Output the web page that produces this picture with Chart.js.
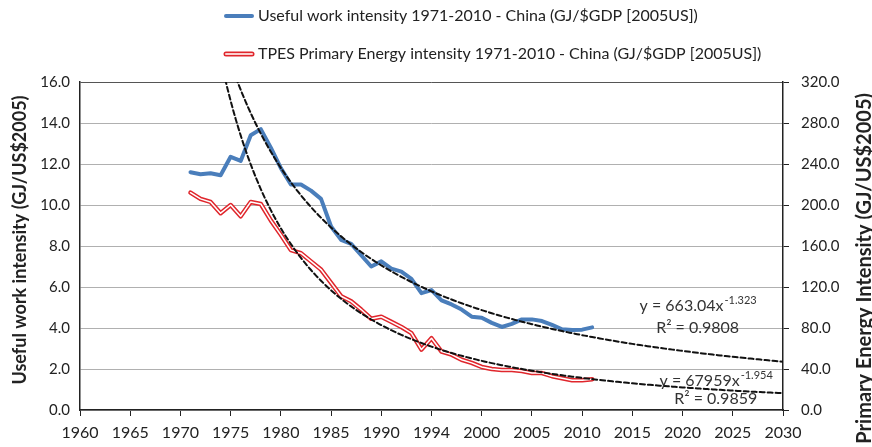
<!DOCTYPE html>
<html>
<head>
<meta charset="utf-8">
<script src="https://cdn.jsdelivr.net/npm/chart.js@4.4.1/dist/chart.umd.min.js"></script>
<style>
    html, body { margin: 0; padding: 0; background: #fff; }
</style>
</head>
<body>
<canvas id="myChart" width="872" height="447"></canvas>
<script>
// data
const years = [1971, 1972, 1973, 1974, 1975, 1976, 1977, 1978, 1979, 1980,
    1981, 1982, 1983, 1984, 1985, 1986, 1987, 1988, 1989, 1990,
    1991, 1992, 1993, 1994, 1995, 1996, 1997, 1998, 1999, 2000,
    2001, 2002, 2003, 2004, 2005, 2006, 2007, 2008, 2009, 2010, 2011];

// Useful work intensity, GJ/US$2005 (left axis)
const usefulWork = [11.6, 11.5, 11.55, 11.45, 12.35, 12.15, 13.4, 13.7, 12.8, 11.8,
    11.0, 11.0, 10.7, 10.3, 8.95, 8.3, 8.1, 7.55, 7.0, 7.25,
    6.9, 6.75, 6.4, 5.7, 5.85, 5.35, 5.15, 4.9, 4.55, 4.5,
    4.25, 4.05, 4.2, 4.42, 4.42, 4.34, 4.15, 3.94, 3.9, 3.92, 4.03];

// TPES primary energy intensity, GJ/US$2005 (right axis)
const primaryEnergy = [212, 206, 203, 192, 200, 189, 203, 201, 185, 171,
    156, 153, 145, 137, 124, 111, 106, 98, 89, 91,
    86, 81, 75, 59, 70, 57, 54, 49, 46, 42,
    40, 39, 39, 38, 36, 36, 33, 31, 29, 29, 30];

const xTickLabels = ['1960', '1965', '1970', '1975', '1980', '1985', '1990', '1994',
    '2000', '2005', '2010', '2015', '2020', '2025', '2030'];

// power trendlines printed on the chart, x = year - 1959
const usefulTrend = { a: 663.04, b: -1.323, eq: 'y = 663.04x', exp: '-1.323', r2: 'R² = 0.9808' };
const energyTrend = { a: 67959, b: -1.954, eq: 'y = 67959x', exp: '-1.954', r2: 'R² = 0.9859' };

const legendLabels = [
    'Useful work intensity 1971-2010 - China (GJ/$GDP [2005US])',
    'TPES Primary Energy intensity 1971-2010 - China (GJ/$GDP [2005US])'
];
const leftTitle = 'Useful work intensity (GJ/US$2005)';
const rightTitle = 'Primary Energy Intensity (GJ/US$2005)';

const BLUE = '#4a7ebb';
const RED = '#e0262c';
const FONT = 'Lato, "Open Sans", sans-serif';

const toPoints = (vals) => years.map((yr, i) => ({ x: yr, y: vals[i] }));

const trendPoints = (trend, from) => {
    const pts = [];
    for (let t = from; t <= 2030; t += 0.25) {
        pts.push({ x: t, y: trend.a * Math.pow(t - 1959, trend.b) });
    }
    return pts;
};

const extras = {
    id: 'extras',
    afterDraw(chart) {
        const ctx = chart.ctx;
        const x = chart.scales.x;
        const y = chart.scales.y;
        ctx.save();

        // legend
        ctx.font = '16px ' + FONT;
        ctx.fillStyle = '#222';
        ctx.textBaseline = 'middle';
        ctx.textAlign = 'left';
        ctx.lineCap = 'round';
        ctx.strokeStyle = BLUE;
        ctx.lineWidth = 4;
        ctx.beginPath(); ctx.moveTo(226, 16); ctx.lineTo(252, 16); ctx.stroke();
        ctx.fillText(legendLabels[0], 258, 16);
        ctx.strokeStyle = RED;
        ctx.lineWidth = 5;
        ctx.beginPath(); ctx.moveTo(226, 54); ctx.lineTo(252, 54); ctx.stroke();
        ctx.strokeStyle = '#fbd0d0';
        ctx.lineWidth = 2;
        ctx.beginPath(); ctx.moveTo(226, 54); ctx.lineTo(252, 54); ctx.stroke();
        ctx.fillText(legendLabels[1], 258, 54);

        // axis titles
        ctx.save();
        ctx.font = 'bold 18px ' + FONT;
        ctx.translate(20, 240);
        ctx.rotate(-Math.PI / 2);
        ctx.textAlign = 'center';
        ctx.fillText(leftTitle, 0, 0);
        ctx.restore();
        ctx.save();
        ctx.font = 'bold 20px ' + FONT;
        ctx.translate(865, 93);
        ctx.rotate(-Math.PI / 2);
        ctx.textAlign = 'right';
        ctx.fillText(rightTitle, 0, 0);
        ctx.restore();

        // trendline equations
        const equation = (trend, cx, cy, ry) => {
            ctx.fillStyle = '#333';
            ctx.textBaseline = 'alphabetic';
            ctx.font = '16px ' + FONT;
            const w1 = ctx.measureText(trend.eq).width;
            ctx.font = '11px ' + FONT;
            const w2 = ctx.measureText(trend.exp).width;
            const left = cx - (w1 + w2) / 2;
            ctx.font = '16px ' + FONT;
            ctx.textAlign = 'left';
            ctx.fillText(trend.eq, left, cy);
            ctx.font = '11px ' + FONT;
            ctx.fillText(trend.exp, left + w1 + 1, cy - 7);
            ctx.font = '16px ' + FONT;
            ctx.textAlign = 'center';
            ctx.fillText(trend.r2, cx, ry);
        };
        equation(usefulTrend, x.getPixelForValue(2021.5), y.getPixelForValue(4.85), y.getPixelForValue(3.75));
        equation(energyTrend, x.getPixelForValue(2023.3), y.getPixelForValue(1.15), y.getPixelForValue(0.3));

        ctx.restore();
    }
};

const myChartRef = document.getElementById('myChart').getContext('2d');
new Chart(myChartRef, {
    type: 'line',
    data: {
        datasets: [
            {
                label: 'trend useful',
                data: trendPoints(usefulTrend, 1974),
                yAxisID: 'y',
                borderColor: '#111',
                borderWidth: 2,
                borderDash: [5, 3],
                order: 0
            },
            {
                label: 'trend energy',
                data: trendPoints(energyTrend, 1973),
                yAxisID: 'y1',
                borderColor: '#111',
                borderWidth: 2,
                borderDash: [5, 3],
                order: 0
            },
            {
                label: 'energy inner',
                data: toPoints(primaryEnergy),
                yAxisID: 'y1',
                borderColor: '#fff',
                borderWidth: 1.5,
                order: 1
            },
            {
                label: legendLabels[1],
                data: toPoints(primaryEnergy),
                yAxisID: 'y1',
                borderColor: RED,
                borderWidth: 4.5,
                order: 2
            },
            {
                label: legendLabels[0],
                data: toPoints(usefulWork),
                yAxisID: 'y',
                borderColor: BLUE,
                borderWidth: 4,
                order: 3
            }
        ]
    },
    options: {
        responsive: false,
        animation: false,
        layout: { padding: { top: 82 } },
        elements: {
            point: { radius: 0 },
            line: { tension: 0, borderJoinStyle: 'round', borderCapStyle: 'round', fill: false }
        },
        plugins: {
            legend: { display: false },
            tooltip: { enabled: false }
        },
        scales: {
            x: {
                type: 'linear',
                min: 1960,
                max: 2030,
                afterFit: (s) => { s.height = 37; },
                ticks: {
                    stepSize: 5,
                    autoSkip: false,
                    maxRotation: 0,
                    padding: 7,
                    color: '#222',
                    font: { family: FONT, size: 16 },
                    callback: (v, i) => xTickLabels[i]
                },
                grid: { drawOnChartArea: false, tickLength: 6, color: '#222' },
                border: { color: '#222', width: 1.5 }
            },
            y: {
                position: 'left',
                min: 0,
                max: 16,
                afterFit: (s) => { s.width = 80; },
                ticks: {
                    stepSize: 2,
                    padding: 10,
                    color: '#222',
                    font: { family: FONT, size: 15 },
                    callback: (v) => v.toFixed(1)
                },
                grid: {
                    drawTicks: false,
                    color: (c) => (c.tick && c.tick.value === 16 ? '#555' : '#b0b0b0')
                },
                border: { color: '#222', width: 1.5 }
            },
            y1: {
                position: 'right',
                min: 0,
                max: 320,
                afterFit: (s) => { s.width = 89; },
                ticks: {
                    stepSize: 40,
                    padding: 12,
                    color: '#222',
                    font: { family: FONT, size: 15 },
                    callback: (v) => v.toFixed(1)
                },
                grid: { drawOnChartArea: false, tickLength: 6, color: '#222' },
                border: { color: '#222', width: 1.5 }
            }
        }
    },
    plugins: [extras]
});
</script>
</body>
</html>
